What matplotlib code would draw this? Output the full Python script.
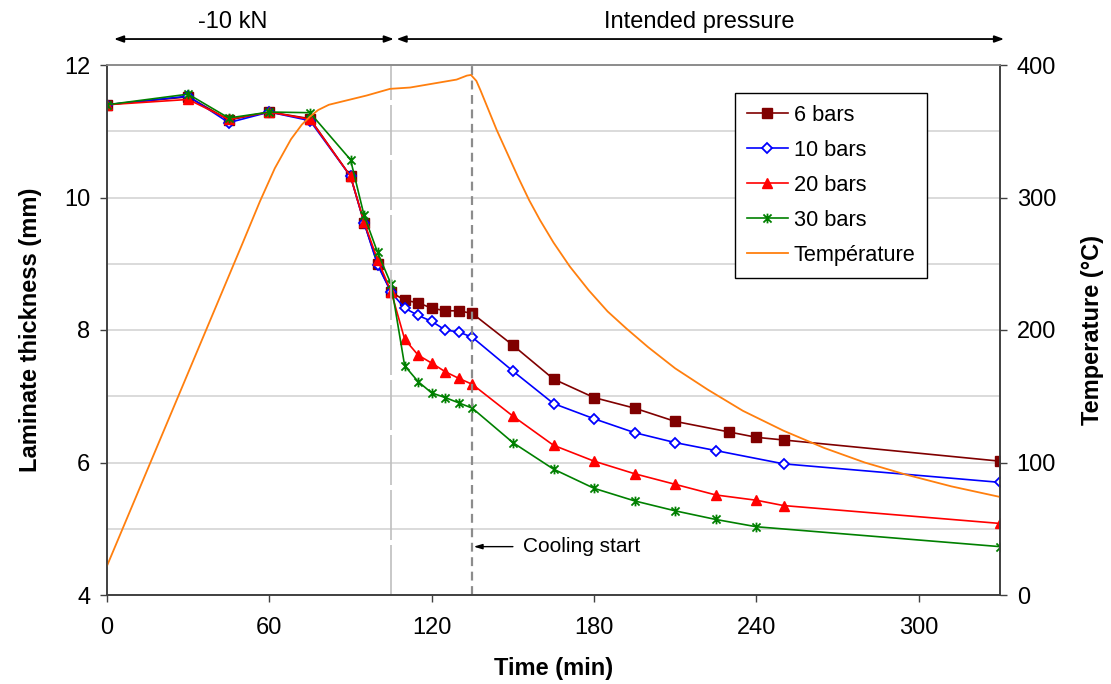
import matplotlib
matplotlib.use("Agg")
import matplotlib.pyplot as plt
from matplotlib.path import Path
from matplotlib.ticker import MultipleLocator

plt.rcParams['font.family'] = ['Liberation Sans', 'DejaVu Sans']

# thickness series (time in min, thickness in mm)
t_6 = [0, 30, 45, 60, 75, 90, 95, 100, 105, 110, 115, 120, 125, 130, 135,
       150, 165, 180, 195, 210, 230, 240, 250, 330]
h_6 = [11.40, 11.52, 11.17, 11.29, 11.19, 10.32, 9.62, 9.00, 8.57, 8.45, 8.41,
       8.33, 8.29, 8.29, 8.25, 7.77, 7.26, 6.98, 6.82, 6.62, 6.46, 6.38, 6.34, 6.02]

t_10 = [0, 30, 45, 60, 75, 90, 95, 100, 105, 110, 115, 120, 125, 130, 135,
        150, 165, 180, 195, 210, 225, 250, 330]
h_10 = [11.40, 11.53, 11.13, 11.29, 11.16, 10.32, 9.62, 8.98, 8.57, 8.33, 8.22,
        8.13, 8.00, 7.97, 7.89, 7.38, 6.89, 6.66, 6.45, 6.30, 6.18, 5.98, 5.70]

t_20 = [0, 30, 45, 60, 75, 90, 95, 100, 105, 110, 115, 120, 125, 130, 135,
        150, 165, 180, 195, 210, 225, 240, 250, 330]
h_20 = [11.40, 11.48, 11.18, 11.29, 11.18, 10.32, 9.63, 9.06, 8.58, 7.86, 7.62,
        7.50, 7.37, 7.27, 7.18, 6.70, 6.26, 6.02, 5.83, 5.67, 5.51, 5.43, 5.35, 5.08]

t_30 = [0, 30, 45, 60, 75, 90, 95, 100, 105, 110, 115, 120, 125, 130, 135,
        150, 165, 180, 195, 210, 225, 240, 330]
h_30 = [11.40, 11.56, 11.20, 11.29, 11.28, 10.57, 9.73, 9.17, 8.69, 7.46, 7.22,
        7.05, 6.98, 6.90, 6.82, 6.30, 5.90, 5.61, 5.42, 5.27, 5.14, 5.03, 4.73]

# temperature trace (time in min, degC)
t_temp = [0, 50, 56.5, 62, 68, 72, 75, 78, 82, 86, 96, 104.6, 112, 120.6, 129.2,
          133, 134.5, 136.5, 138, 141, 144, 148, 152, 156, 160, 165, 171, 178,
          185, 192, 200, 210, 222, 235, 250, 265, 280, 295, 312, 330]
temp = [22, 265, 297, 322, 344, 355, 361, 366, 370, 372, 377, 382, 383, 386, 389,
        392, 392.5, 388, 381, 366, 351, 333, 315, 298, 283, 266, 248, 230,
        214, 201, 187, 171, 155, 139, 124, 111, 100, 91, 82, 74]

fig = plt.figure(figsize=(11.11, 6.84), dpi=100)
ax = fig.add_axes([107 / 1111, 1 - 595 / 684, 893 / 1111, 530 / 684])
ax2 = ax.twinx()

# star marker: X with a vertical bar
star = Path([(-1, -1), (1, 1), (-1, 1), (1, -1), (0, -1.2), (0, 1.2)],
            [Path.MOVETO, Path.LINETO, Path.MOVETO, Path.LINETO, Path.MOVETO, Path.LINETO])

l6, = ax.plot(t_6, h_6, color='#800000', lw=1.2, marker='s', ms=6.8,
              mfc='#800000', mec='#800000', label='6 bars')
l10, = ax.plot(t_10, h_10, color='#0000ff', lw=1.2, marker='D', ms=5.2,
               mfc='white', mec='#0000ff', mew=1.3, label='10 bars')
l20, = ax.plot(t_20, h_20, color='#ff0000', lw=1.2, marker='^', ms=7.8,
               mfc='#ff0000', mec='#ff0000', label='20 bars')
l30, = ax.plot(t_30, h_30, color='#008000', lw=1.2, marker=star, ms=7,
               mec='#008000', mew=1.3, label='30 bars')
lt, = ax2.plot(t_temp, temp, color='#ff7f0e', lw=1.3, label='Température')

ax.set_xlim(0, 330)
ax.set_ylim(4, 12)
ax2.set_ylim(0, 400)
ax.set_xticks(range(0, 301, 60))
ax.set_yticks(range(4, 13, 2))
ax.yaxis.set_minor_locator(MultipleLocator(1))
ax2.set_yticks(range(0, 401, 100))
ax.grid(True, axis='y', which='both', color='#d4d4d4', lw=1.2)
ax.set_axisbelow(True)

for a in (ax, ax2):
    a.spines['top'].set_color('#8c8c8c')
    a.spines['top'].set_linewidth(1.2)
    for s in ('left', 'bottom', 'right'):
        a.spines[s].set_color('#404040')
        a.spines[s].set_linewidth(1.2)
ax.tick_params(axis='y', which='major', direction='out', length=5, width=1,
               color='#404040', labelsize=17, pad=7)
ax.tick_params(axis='x', which='major', direction='out', length=5, width=1,
               color='#404040', labelsize=17, pad=11)
ax.tick_params(axis='y', which='minor', length=0)
ax2.tick_params(axis='y', direction='out', length=5, width=1, color='#404040',
                labelsize=17, pad=7)

ax.set_xlabel('Time (min)', fontsize=17, fontweight='bold', labelpad=13)
ax.set_ylabel('Laminate thickness (mm)', fontsize=17, fontweight='bold', labelpad=16)
ax2.set_ylabel('Temperature (°C)', fontsize=17, fontweight='bold', labelpad=18)

# phase markers
ax.axvline(105, color='#bfbfbf', lw=1.2, dashes=(30, 3))
ax.axvline(135, color='#8c8c8c', lw=1.6, dashes=(4, 2.5))

# top arrows
arrow_kw = dict(arrowstyle='<|-|>,head_length=0.55,head_width=0.2', color='black',
                lw=1.3, shrinkA=0, shrinkB=0)
ax.annotate('', xy=(2.6, 1.049), xytext=(106, 1.049),
            xycoords=('data', 'axes fraction'), textcoords=('data', 'axes fraction'),
            arrowprops=arrow_kw, annotation_clip=False)
ax.annotate('', xy=(107, 1.049), xytext=(331.5, 1.049),
            xycoords=('data', 'axes fraction'), textcoords=('data', 'axes fraction'),
            arrowprops=arrow_kw, annotation_clip=False)
ax.text(46.5, 1.082, '-10 kN', transform=ax.get_xaxis_transform(), ha='center',
        va='center', fontsize=17)
ax.text(219, 1.082, 'Intended pressure', transform=ax.get_xaxis_transform(),
        ha='center', va='center', fontsize=17)

# cooling start
ax.annotate('', xy=(135.5, 4.73), xytext=(150, 4.73),
            arrowprops=dict(arrowstyle='-|>,head_length=0.5,head_width=0.15',
                            color='black', lw=1, shrinkA=0, shrinkB=0))
ax.text(153.6, 4.73, 'Cooling start', ha='left', va='center', fontsize=15)

leg = ax2.legend(handles=[l6, l10, l20, l30, lt], loc='upper left',
                 bbox_to_anchor=(0.703, 0.947), fontsize=15.7, frameon=True,
                 fancybox=False, framealpha=1, edgecolor='black',
                 handlelength=1.9, handletextpad=0.25, labelspacing=0.64,
                 borderpad=0.55, borderaxespad=0)
leg.get_frame().set_linewidth(1.0)

fig.savefig('out.png', dpi=100)
